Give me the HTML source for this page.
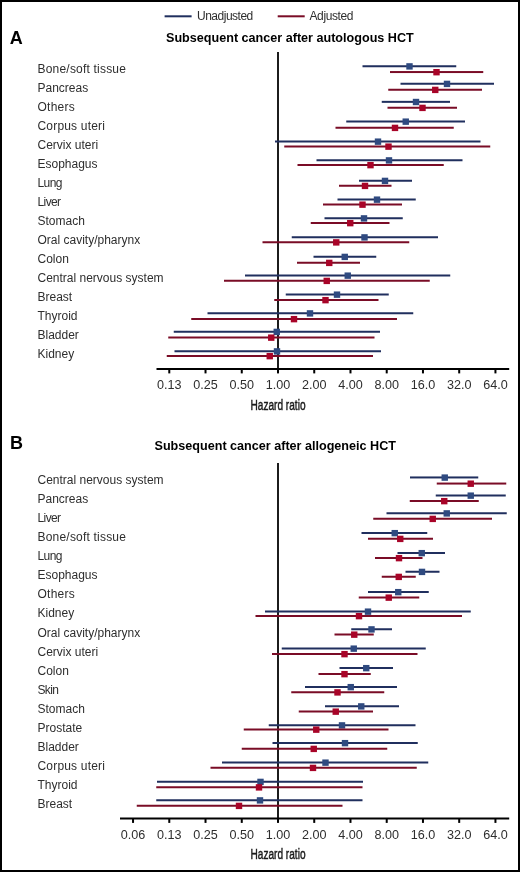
<!DOCTYPE html>
<html><head><meta charset="utf-8"><style>
html,body{margin:0;padding:0;background:#fff;}
body{width:520px;height:872px;overflow:hidden;position:relative;}
.frame{position:absolute;left:0;top:0;width:516px;height:868px;border:2px solid #000;}
svg{position:absolute;left:0;top:0;filter:blur(0.3px);}
text{font-family:"Liberation Sans",sans-serif;font-size:12px;fill:#2e2e2e;}
.tk{font-size:12.6px;fill:#2e2e2e;}
.hr{font-size:14px;fill:#1a1a1a;stroke:#1a1a1a;stroke-width:0.45px;}
.ttl{font-weight:bold;font-size:12.6px;fill:#000;}
.pl{font-weight:bold;font-size:18px;fill:#000;}
</style></head><body>
<div class="frame"></div>
<svg width="520" height="872" viewBox="0 0 520 872">
<!-- legend -->
<rect x="164.6" y="15.3" width="27" height="2" fill="#202f5e"/>
<text x="197" y="19.8" textLength="56.3" lengthAdjust="spacing">Unadjusted</text>
<rect x="277.7" y="15.3" width="27" height="2" fill="#7a0c26"/>
<text x="309.5" y="19.7" textLength="44" lengthAdjust="spacing">Adjusted</text>
<!-- A -->
<text class="pl" x="9.7" y="43.8">A</text>
<text class="ttl" x="166" y="42.3">Subsequent cancer after autologous HCT</text>
<rect x="277" y="52" width="2" height="317" fill="#1c1c1c"/>
<text x="37.5" y="72.50" textLength="88.4">Bone/soft tissue</text>
<text x="37.5" y="91.50">Pancreas</text>
<text x="37.5" y="110.50" textLength="37.3">Others</text>
<text x="37.5" y="129.50" textLength="67.4">Corpus uteri</text>
<text x="37.5" y="148.50">Cervix uteri</text>
<text x="37.5" y="167.50">Esophagus</text>
<text x="37.5" y="186.50" textLength="25.0">Lung</text>
<text x="37.5" y="205.50" textLength="23.6">Liver</text>
<text x="37.5" y="224.50">Stomach</text>
<text x="37.5" y="243.50">Oral cavity/pharynx</text>
<text x="37.5" y="262.50">Colon</text>
<text x="37.5" y="281.50">Central nervous system</text>
<text x="37.5" y="300.50">Breast</text>
<text x="37.5" y="319.50">Thyroid</text>
<text x="37.5" y="338.50">Bladder</text>
<text x="37.5" y="357.50">Kidney</text>
<rect x="362.50" y="65.25" width="93.75" height="2" fill="#202f5e"/>
<rect x="406.30" y="63.20" width="6.4" height="6.4" fill="#2f4a80"/>
<rect x="390.00" y="71.05" width="93.25" height="2" fill="#7a0c26"/>
<rect x="433.30" y="69.00" width="6.4" height="6.4" fill="#a80428"/>
<rect x="400.50" y="82.75" width="93.50" height="2" fill="#202f5e"/>
<rect x="443.80" y="80.70" width="6.4" height="6.4" fill="#2f4a80"/>
<rect x="388.25" y="88.75" width="93.75" height="2" fill="#7a0c26"/>
<rect x="432.05" y="86.70" width="6.4" height="6.4" fill="#a80428"/>
<rect x="381.75" y="100.85" width="68.25" height="2" fill="#202f5e"/>
<rect x="412.80" y="98.80" width="6.4" height="6.4" fill="#2f4a80"/>
<rect x="387.50" y="106.75" width="69.50" height="2" fill="#7a0c26"/>
<rect x="419.30" y="104.70" width="6.4" height="6.4" fill="#a80428"/>
<rect x="346.25" y="120.50" width="118.75" height="2" fill="#202f5e"/>
<rect x="402.55" y="118.45" width="6.4" height="6.4" fill="#2f4a80"/>
<rect x="335.50" y="126.75" width="118.25" height="2" fill="#7a0c26"/>
<rect x="391.80" y="124.70" width="6.4" height="6.4" fill="#a80428"/>
<rect x="275.00" y="140.50" width="205.50" height="2" fill="#202f5e"/>
<rect x="374.80" y="138.45" width="6.4" height="6.4" fill="#2f4a80"/>
<rect x="284.25" y="145.50" width="206.00" height="2" fill="#7a0c26"/>
<rect x="385.30" y="143.45" width="6.4" height="6.4" fill="#a80428"/>
<rect x="316.50" y="159.25" width="146.00" height="2" fill="#202f5e"/>
<rect x="385.80" y="157.20" width="6.4" height="6.4" fill="#2f4a80"/>
<rect x="297.50" y="164.00" width="146.25" height="2" fill="#7a0c26"/>
<rect x="367.30" y="161.95" width="6.4" height="6.4" fill="#a80428"/>
<rect x="359.00" y="179.75" width="53.00" height="2" fill="#202f5e"/>
<rect x="381.80" y="177.70" width="6.4" height="6.4" fill="#2f4a80"/>
<rect x="339.00" y="184.75" width="52.50" height="2" fill="#7a0c26"/>
<rect x="361.80" y="182.70" width="6.4" height="6.4" fill="#a80428"/>
<rect x="337.50" y="198.50" width="78.25" height="2" fill="#202f5e"/>
<rect x="373.80" y="196.45" width="6.4" height="6.4" fill="#2f4a80"/>
<rect x="323.00" y="203.50" width="79.00" height="2" fill="#7a0c26"/>
<rect x="359.30" y="201.45" width="6.4" height="6.4" fill="#a80428"/>
<rect x="324.50" y="217.25" width="78.25" height="2" fill="#202f5e"/>
<rect x="360.80" y="215.20" width="6.4" height="6.4" fill="#2f4a80"/>
<rect x="310.75" y="222.00" width="78.75" height="2" fill="#7a0c26"/>
<rect x="347.05" y="219.95" width="6.4" height="6.4" fill="#a80428"/>
<rect x="291.75" y="236.25" width="146.25" height="2" fill="#202f5e"/>
<rect x="361.30" y="234.20" width="6.4" height="6.4" fill="#2f4a80"/>
<rect x="262.50" y="241.25" width="146.75" height="2" fill="#7a0c26"/>
<rect x="333.05" y="239.20" width="6.4" height="6.4" fill="#a80428"/>
<rect x="313.50" y="255.75" width="62.75" height="2" fill="#202f5e"/>
<rect x="341.55" y="253.70" width="6.4" height="6.4" fill="#2f4a80"/>
<rect x="297.00" y="261.75" width="63.00" height="2" fill="#7a0c26"/>
<rect x="326.05" y="259.70" width="6.4" height="6.4" fill="#a80428"/>
<rect x="245.00" y="274.50" width="205.25" height="2" fill="#202f5e"/>
<rect x="344.55" y="272.45" width="6.4" height="6.4" fill="#2f4a80"/>
<rect x="224.00" y="279.75" width="205.75" height="2" fill="#7a0c26"/>
<rect x="323.55" y="277.70" width="6.4" height="6.4" fill="#a80428"/>
<rect x="285.75" y="293.50" width="103.00" height="2" fill="#202f5e"/>
<rect x="333.80" y="291.45" width="6.4" height="6.4" fill="#2f4a80"/>
<rect x="274.25" y="299.00" width="104.25" height="2" fill="#7a0c26"/>
<rect x="322.30" y="296.95" width="6.4" height="6.4" fill="#a80428"/>
<rect x="207.50" y="312.25" width="205.75" height="2" fill="#202f5e"/>
<rect x="306.80" y="310.20" width="6.4" height="6.4" fill="#2f4a80"/>
<rect x="191.25" y="318.00" width="205.75" height="2" fill="#7a0c26"/>
<rect x="290.80" y="315.95" width="6.4" height="6.4" fill="#a80428"/>
<rect x="173.75" y="330.75" width="206.25" height="2" fill="#202f5e"/>
<rect x="273.55" y="328.70" width="6.4" height="6.4" fill="#2f4a80"/>
<rect x="168.25" y="336.50" width="206.25" height="2" fill="#7a0c26"/>
<rect x="268.05" y="334.45" width="6.4" height="6.4" fill="#a80428"/>
<rect x="174.50" y="350.25" width="206.50" height="2" fill="#202f5e"/>
<rect x="273.80" y="348.20" width="6.4" height="6.4" fill="#2f4a80"/>
<rect x="166.75" y="355.00" width="206.25" height="2" fill="#7a0c26"/>
<rect x="266.55" y="352.95" width="6.4" height="6.4" fill="#a80428"/>
<rect x="156.5" y="368" width="352.7" height="2" fill="#000"/>
<rect x="168.28" y="369" width="2" height="4.4" fill="#000"/>
<text class="tk" x="169.28" y="389.2" text-anchor="middle">0.13</text>
<rect x="204.52" y="369" width="2" height="4.4" fill="#000"/>
<text class="tk" x="205.52" y="389.2" text-anchor="middle">0.25</text>
<rect x="240.76" y="369" width="2" height="4.4" fill="#000"/>
<text class="tk" x="241.76" y="389.2" text-anchor="middle">0.50</text>
<rect x="277.00" y="369" width="2" height="4.4" fill="#000"/>
<text class="tk" x="278.00" y="389.2" text-anchor="middle">1.00</text>
<rect x="313.24" y="369" width="2" height="4.4" fill="#000"/>
<text class="tk" x="314.24" y="389.2" text-anchor="middle">2.00</text>
<rect x="349.48" y="369" width="2" height="4.4" fill="#000"/>
<text class="tk" x="350.48" y="389.2" text-anchor="middle">4.00</text>
<rect x="385.72" y="369" width="2" height="4.4" fill="#000"/>
<text class="tk" x="386.72" y="389.2" text-anchor="middle">8.00</text>
<rect x="421.96" y="369" width="2" height="4.4" fill="#000"/>
<text class="tk" x="422.96" y="389.2" text-anchor="middle">16.0</text>
<rect x="458.20" y="369" width="2" height="4.4" fill="#000"/>
<text class="tk" x="459.20" y="389.2" text-anchor="middle">32.0</text>
<rect x="494.44" y="369" width="2" height="4.4" fill="#000"/>
<text class="tk" x="495.44" y="389.2" text-anchor="middle">64.0</text>
<text class="hr" x="278" y="410" text-anchor="middle" textLength="55" lengthAdjust="spacingAndGlyphs">Hazard ratio</text>
<!-- B -->
<text class="pl" x="10.1" y="448.9">B</text>
<text class="ttl" x="154.5" y="449.5">Subsequent cancer after allogeneic HCT</text>
<rect x="277" y="463" width="2" height="355" fill="#1c1c1c"/>
<text x="37.5" y="484.20">Central nervous system</text>
<text x="37.5" y="503.24">Pancreas</text>
<text x="37.5" y="522.28" textLength="23.6">Liver</text>
<text x="37.5" y="541.32" textLength="88.4">Bone/soft tissue</text>
<text x="37.5" y="560.36" textLength="25.0">Lung</text>
<text x="37.5" y="579.40">Esophagus</text>
<text x="37.5" y="598.44" textLength="37.3">Others</text>
<text x="37.5" y="617.48">Kidney</text>
<text x="37.5" y="636.52">Oral cavity/pharynx</text>
<text x="37.5" y="655.56">Cervix uteri</text>
<text x="37.5" y="674.60">Colon</text>
<text x="37.5" y="693.64" textLength="21.4">Skin</text>
<text x="37.5" y="712.68">Stomach</text>
<text x="37.5" y="731.72">Prostate</text>
<text x="37.5" y="750.76">Bladder</text>
<text x="37.5" y="769.80" textLength="67.4">Corpus uteri</text>
<text x="37.5" y="788.84">Thyroid</text>
<text x="37.5" y="807.88">Breast</text>
<rect x="410.00" y="476.45" width="68.25" height="2" fill="#202f5e"/>
<rect x="441.55" y="474.40" width="6.4" height="6.4" fill="#2f4a80"/>
<rect x="436.75" y="482.55" width="69.50" height="2" fill="#7a0c26"/>
<rect x="467.55" y="480.50" width="6.4" height="6.4" fill="#a80428"/>
<rect x="435.75" y="494.50" width="70.00" height="2" fill="#202f5e"/>
<rect x="467.55" y="492.45" width="6.4" height="6.4" fill="#2f4a80"/>
<rect x="409.75" y="500.00" width="69.00" height="2" fill="#7a0c26"/>
<rect x="441.05" y="497.95" width="6.4" height="6.4" fill="#a80428"/>
<rect x="386.50" y="512.25" width="120.25" height="2" fill="#202f5e"/>
<rect x="443.55" y="510.20" width="6.4" height="6.4" fill="#2f4a80"/>
<rect x="373.25" y="517.75" width="118.75" height="2" fill="#7a0c26"/>
<rect x="429.55" y="515.70" width="6.4" height="6.4" fill="#a80428"/>
<rect x="361.50" y="532.00" width="65.75" height="2" fill="#202f5e"/>
<rect x="391.55" y="529.95" width="6.4" height="6.4" fill="#2f4a80"/>
<rect x="368.00" y="537.75" width="65.00" height="2" fill="#7a0c26"/>
<rect x="397.05" y="535.70" width="6.4" height="6.4" fill="#a80428"/>
<rect x="397.50" y="552.00" width="47.50" height="2" fill="#202f5e"/>
<rect x="418.55" y="549.95" width="6.4" height="6.4" fill="#2f4a80"/>
<rect x="375.00" y="557.00" width="47.50" height="2" fill="#7a0c26"/>
<rect x="395.80" y="554.95" width="6.4" height="6.4" fill="#a80428"/>
<rect x="405.50" y="570.75" width="34.00" height="2" fill="#202f5e"/>
<rect x="418.80" y="568.70" width="6.4" height="6.4" fill="#2f4a80"/>
<rect x="381.75" y="575.75" width="34.00" height="2" fill="#7a0c26"/>
<rect x="395.55" y="573.70" width="6.4" height="6.4" fill="#a80428"/>
<rect x="368.00" y="591.00" width="60.75" height="2" fill="#202f5e"/>
<rect x="395.05" y="588.95" width="6.4" height="6.4" fill="#2f4a80"/>
<rect x="358.75" y="596.50" width="60.50" height="2" fill="#7a0c26"/>
<rect x="385.55" y="594.45" width="6.4" height="6.4" fill="#a80428"/>
<rect x="265.00" y="610.50" width="205.75" height="2" fill="#202f5e"/>
<rect x="364.80" y="608.45" width="6.4" height="6.4" fill="#2f4a80"/>
<rect x="255.50" y="615.00" width="206.50" height="2" fill="#7a0c26"/>
<rect x="355.80" y="612.95" width="6.4" height="6.4" fill="#a80428"/>
<rect x="351.25" y="628.25" width="40.75" height="2" fill="#202f5e"/>
<rect x="368.30" y="626.20" width="6.4" height="6.4" fill="#2f4a80"/>
<rect x="334.50" y="633.50" width="39.25" height="2" fill="#7a0c26"/>
<rect x="351.05" y="631.45" width="6.4" height="6.4" fill="#a80428"/>
<rect x="281.75" y="647.50" width="144.00" height="2" fill="#202f5e"/>
<rect x="350.55" y="645.45" width="6.4" height="6.4" fill="#2f4a80"/>
<rect x="272.00" y="653.00" width="145.50" height="2" fill="#7a0c26"/>
<rect x="341.30" y="650.95" width="6.4" height="6.4" fill="#a80428"/>
<rect x="339.50" y="667.00" width="53.50" height="2" fill="#202f5e"/>
<rect x="363.05" y="664.95" width="6.4" height="6.4" fill="#2f4a80"/>
<rect x="318.50" y="673.00" width="52.25" height="2" fill="#7a0c26"/>
<rect x="341.30" y="670.95" width="6.4" height="6.4" fill="#a80428"/>
<rect x="305.00" y="686.00" width="92.00" height="2" fill="#202f5e"/>
<rect x="347.55" y="683.95" width="6.4" height="6.4" fill="#2f4a80"/>
<rect x="291.25" y="691.25" width="93.00" height="2" fill="#7a0c26"/>
<rect x="334.30" y="689.20" width="6.4" height="6.4" fill="#a80428"/>
<rect x="325.00" y="705.25" width="74.00" height="2" fill="#202f5e"/>
<rect x="358.05" y="703.20" width="6.4" height="6.4" fill="#2f4a80"/>
<rect x="298.75" y="710.50" width="74.25" height="2" fill="#7a0c26"/>
<rect x="332.55" y="708.45" width="6.4" height="6.4" fill="#a80428"/>
<rect x="268.75" y="724.25" width="146.75" height="2" fill="#202f5e"/>
<rect x="338.80" y="722.20" width="6.4" height="6.4" fill="#2f4a80"/>
<rect x="243.75" y="728.50" width="144.75" height="2" fill="#7a0c26"/>
<rect x="313.05" y="726.45" width="6.4" height="6.4" fill="#a80428"/>
<rect x="272.50" y="742.00" width="145.25" height="2" fill="#202f5e"/>
<rect x="341.80" y="739.95" width="6.4" height="6.4" fill="#2f4a80"/>
<rect x="241.75" y="747.75" width="145.50" height="2" fill="#7a0c26"/>
<rect x="310.55" y="745.70" width="6.4" height="6.4" fill="#a80428"/>
<rect x="222.00" y="761.50" width="206.25" height="2" fill="#202f5e"/>
<rect x="322.30" y="759.45" width="6.4" height="6.4" fill="#2f4a80"/>
<rect x="210.50" y="766.75" width="206.25" height="2" fill="#7a0c26"/>
<rect x="309.80" y="764.70" width="6.4" height="6.4" fill="#a80428"/>
<rect x="157.00" y="780.75" width="206.00" height="2" fill="#202f5e"/>
<rect x="257.30" y="778.70" width="6.4" height="6.4" fill="#2f4a80"/>
<rect x="156.25" y="786.25" width="206.25" height="2" fill="#7a0c26"/>
<rect x="255.80" y="784.20" width="6.4" height="6.4" fill="#a80428"/>
<rect x="156.25" y="799.25" width="206.25" height="2" fill="#202f5e"/>
<rect x="256.80" y="797.20" width="6.4" height="6.4" fill="#2f4a80"/>
<rect x="136.75" y="804.75" width="205.75" height="2" fill="#7a0c26"/>
<rect x="235.80" y="802.70" width="6.4" height="6.4" fill="#a80428"/>
<rect x="120" y="817.5" width="389.2" height="2" fill="#000"/>
<rect x="132.04" y="818.5" width="2" height="4.4" fill="#000"/>
<text class="tk" x="133.04" y="838.8" text-anchor="middle">0.06</text>
<rect x="168.28" y="818.5" width="2" height="4.4" fill="#000"/>
<text class="tk" x="169.28" y="838.8" text-anchor="middle">0.13</text>
<rect x="204.52" y="818.5" width="2" height="4.4" fill="#000"/>
<text class="tk" x="205.52" y="838.8" text-anchor="middle">0.25</text>
<rect x="240.76" y="818.5" width="2" height="4.4" fill="#000"/>
<text class="tk" x="241.76" y="838.8" text-anchor="middle">0.50</text>
<rect x="277.00" y="818.5" width="2" height="4.4" fill="#000"/>
<text class="tk" x="278.00" y="838.8" text-anchor="middle">1.00</text>
<rect x="313.24" y="818.5" width="2" height="4.4" fill="#000"/>
<text class="tk" x="314.24" y="838.8" text-anchor="middle">2.00</text>
<rect x="349.48" y="818.5" width="2" height="4.4" fill="#000"/>
<text class="tk" x="350.48" y="838.8" text-anchor="middle">4.00</text>
<rect x="385.72" y="818.5" width="2" height="4.4" fill="#000"/>
<text class="tk" x="386.72" y="838.8" text-anchor="middle">8.00</text>
<rect x="421.96" y="818.5" width="2" height="4.4" fill="#000"/>
<text class="tk" x="422.96" y="838.8" text-anchor="middle">16.0</text>
<rect x="458.20" y="818.5" width="2" height="4.4" fill="#000"/>
<text class="tk" x="459.20" y="838.8" text-anchor="middle">32.0</text>
<rect x="494.44" y="818.5" width="2" height="4.4" fill="#000"/>
<text class="tk" x="495.44" y="838.8" text-anchor="middle">64.0</text>
<text class="hr" x="278" y="859.2" text-anchor="middle" textLength="55" lengthAdjust="spacingAndGlyphs">Hazard ratio</text>
</svg>
</body></html>
